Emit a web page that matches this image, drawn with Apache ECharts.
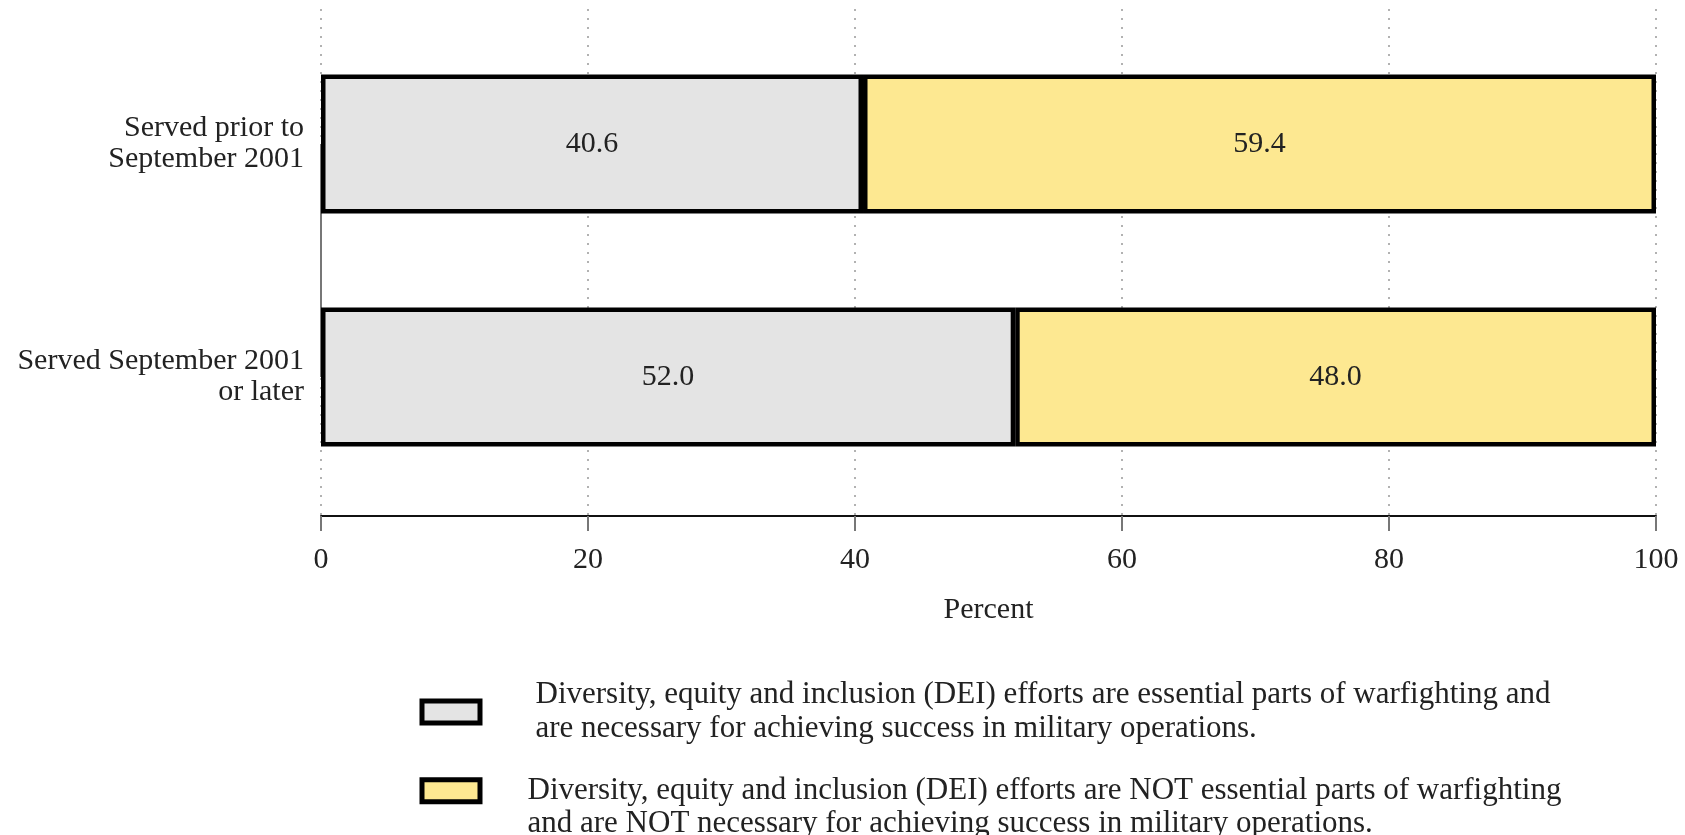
<!DOCTYPE html>
<html>
<head>
<meta charset="utf-8">
<script src="https://cdn.jsdelivr.net/npm/echarts@6/dist/echarts.min.js"></script>
<style>
  html, body { margin: 0; padding: 0; background: #fff; }
  #chart { width: 1685px; height: 835px; }
</style>
</head>
<body>
<div id="chart"></div>
<script>
const categories = ['Served prior to\nSeptember 2001', 'Served September 2001\nor later'];
const essential = [40.6, 52.0];
const notEssential = [59.4, 48.0];
const xTicks = [0, 20, 40, 60, 80, 100];
const legendNames = [
    'Diversity, equity and inclusion (DEI) efforts are essential parts of warfighting and\nare necessary for achieving success in military operations.',
    'Diversity, equity and inclusion (DEI) efforts are NOT essential parts of warfighting\nand are NOT necessary for achieving success in military operations.'
];

const font = 'Liberation Serif';
let dom = document.getElementById('chart');
let myChart = echarts.init(dom, null, {renderer: 'canvas'});

// one legend box per item, so each can sit where the reference has it
function legendBox(name, top, padLeft, lowerText) {
    return {
        orient: 'vertical',
        left: 419.5,
        top: top,
        padding: 0,
        itemWidth: 58,
        itemHeight: 22,
        icon: 'rect',
        itemStyle: {borderWidth: 5, borderColor: '#000'},
        textStyle: {fontFamily: font, fontSize: 31, lineHeight: 33.5, color: '#222', padding: [0, 0, 0, padLeft]},
        // second item's text sits a bit lower than its box
        formatter: function (n) { return lowerText ? '\n' + n : n; },
        data: [name]
    };
}

const option = {
    animation: false,
    textStyle: {fontFamily: font},
    grid: [
        // axis + dotted gridlines
        {left: 321, right: 29, top: 9, bottom: 319},
        // bars
        {left: 321, right: 29, top: 27.5, height: 466}
    ],
    xAxis: [
        {
            gridIndex: 0,
            type: 'value',
            min: xTicks[0],
            max: xTicks[xTicks.length - 1],
            interval: 20,
            name: 'Percent',
            nameLocation: 'middle',
            nameGap: 79,
            nameTextStyle: {fontFamily: font, fontSize: 30, color: '#222'},
            axisLine: {show: true, lineStyle: {color: '#111', width: 2}},
            axisTick: {show: true, length: 15, lineStyle: {color: '#777', width: 2}},
            axisLabel: {fontFamily: font, fontSize: 30, color: '#222', margin: 29},
            splitLine: {show: true, lineStyle: {color: '#999', width: 1.5, type: [2, 7]}}
        },
        {
            gridIndex: 1,
            type: 'value',
            min: 0,
            max: 100,
            show: false,
            splitLine: {show: false}
        }
    ],
    yAxis: [
        {
            gridIndex: 0,
            type: 'value',
            show: false,
            splitLine: {show: false}
        },
        {
            gridIndex: 1,
            type: 'category',
            inverse: true,
            data: categories,
            axisLine: {show: false},
            axisTick: {show: false},
            axisLabel: {fontFamily: font, fontSize: 30, lineHeight: 31, color: '#222', margin: 17}
        }
    ],
    legend: [
        legendBox(legendNames[0], 678.5, 50.5, false),
        legendBox(legendNames[1], 740.5, 42.5, true)
    ],
    series: [
        {
            name: legendNames[0],
            type: 'bar',
            stack: 'total',
            xAxisIndex: 1,
            yAxisIndex: 1,
            barWidth: 139,
            data: essential,
            itemStyle: {color: '#e4e4e4', borderColor: '#000', borderWidth: 4.5},
            label: {
                show: true,
                position: 'inside',
                fontFamily: font,
                fontSize: 30,
                color: '#222',
                formatter: function (p) { return p.value.toFixed(1); }
            },
            markLine: {
                silent: true,
                symbol: 'none',
                label: {show: false},
                lineStyle: {color: '#777', width: 2, type: 'solid'},
                data: [[{coord: [0, 0]}, {coord: [0, 1]}]],
                z: 1
            },
            z: 3
        },
        {
            name: legendNames[1],
            type: 'bar',
            stack: 'total',
            xAxisIndex: 1,
            yAxisIndex: 1,
            barWidth: 139,
            data: notEssential,
            itemStyle: {color: '#fde891', borderColor: '#000', borderWidth: 4.5},
            label: {
                show: true,
                position: 'inside',
                fontFamily: font,
                fontSize: 30,
                color: '#222',
                formatter: function (p) { return p.value.toFixed(1); }
            },
            z: 3
        }
    ]
};
myChart.setOption(option, true);
</script>
</body>
</html>
